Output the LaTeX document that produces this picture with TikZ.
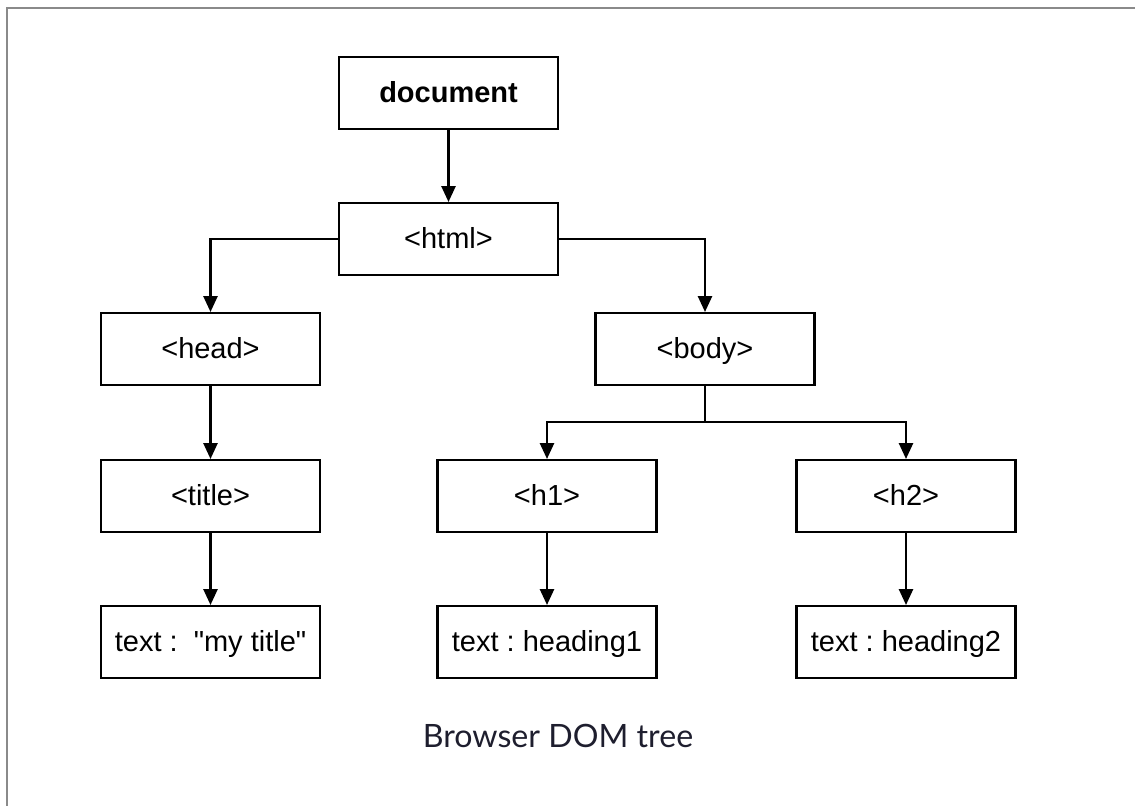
\documentclass[tikz,border=0pt]{standalone}
\usepackage{fontspec}
\setmainfont{Liberation Sans}
\newfontfamily\latofont{Lato}
\usetikzlibrary{arrows.meta}
\frenchspacing

\definecolor{framegray}{HTML}{8A8A8A}
\definecolor{captionink}{HTML}{1E1E2E}

\tikzset{
    tagbox/.style={draw, line width=1.2pt, minimum width=4.38cm, minimum height=1.44cm,
                   font=\fontsize{16.5}{20}\selectfont, inner sep=0pt,
                   text height=14pt, text depth=3pt},
    link/.style={line width=1.2pt, -{Triangle[length=9pt, width=8pt]}},
    stem/.style={line width=1.2pt}
}

\begin{document}
\begin{tikzpicture}[x=0.02cm, y=-0.02cm]

        \useasboundingbox (0,0) rectangle (1135,805);
        \draw [framegray, line width=1.6pt] (7,8) rectangle (1200,900);

        % top of the tree
        \node [tagbox] (doc) at (448.5,93) {\bfseries document};
        \node [tagbox] (html) at (448.5,239) {<html>};

        % second level
        \node [tagbox] (head) at (210.5,349) {<head>};
        \node [tagbox] (body) at (705,349) {<body>};

        % third level
        \node [tagbox] (title) at (210.5,496) {<title>};
        \node [tagbox] (h1) at (547,496) {<h1>};
        \node [tagbox] (h2) at (906,496) {<h2>};

        % text leaves
        \node [tagbox] (ttitle) at (210.5,642) {text :~~\textquotedbl my title\textquotedbl};
        \node [tagbox] (th1) at (547,642) {text : heading1};
        \node [tagbox] (th2) at (906,642) {text : heading2};

        \node [captionink, font=\latofont\fontsize{18.3}{22}\selectfont] (cap) at (558,736) {Browser DOM tree};

        % connectors
        \draw [link] (doc) -- (html);
        \draw [link] (html.west) -| (head.north);
        \draw [link] (html.east) -| (body.north);
        \draw [link] (head) -- (title);
        \draw [link] (title) -- (ttitle);

        \coordinate (fork) at (705,422);
        \draw [stem] (body.south) -- (fork);
        \draw [link] (fork) -| (h1.north);
        \draw [link] (fork) -| (h2.north);

        \draw [link] (h1) -- (th1);
        \draw [link] (h2) -- (th2);

    \end{tikzpicture}
\end{document}
